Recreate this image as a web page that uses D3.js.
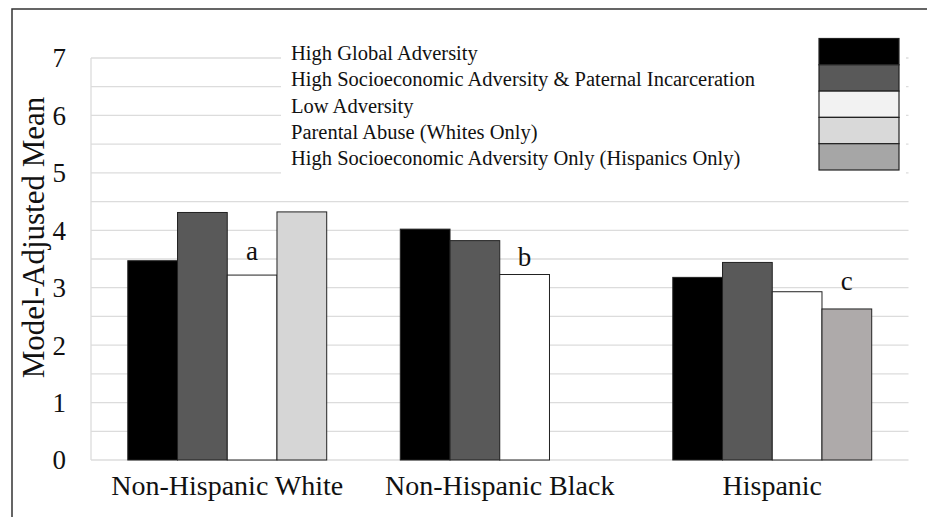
<!DOCTYPE html>
<html lang="en">
<head>
    <meta charset="UTF-8">
    <script src="https://d3js.org/d3.v7.min.js"></script>
    <title>Model-Adjusted Mean</title>
</head>
<body style="margin: 0; background: #fff;">
<div id="chart"></div>
<script>
    // categories and series
    const groups = ["Non-Hispanic White", "Non-Hispanic Black", "Hispanic"]
    const seriesNames = [
        "High Global Adversity",
        "High Socioeconomic Adversity & Paternal Incarceration",
        "Low Adversity",
        "Parental Abuse (Whites Only)",
        "High Socioeconomic Adversity Only (Hispanics Only)"
    ]
    // slot each series takes inside a group (the last two share slot 3)
    const seriesSlot = [0, 1, 2, 3, 3]
    const barColors = ["#000000", "#595959", "#ffffff", "#d6d6d6", "#aeaaaa"]
    const legendColors = ["#000000", "#595959", "#f2f2f2", "#d9d9d9", "#a6a6a6"]

    // values per group, null = not estimated
    const highGlobal = [3.47, 4.02, 3.18]
    const highSesPaternal = [4.31, 3.82, 3.44]
    const lowAdversity = [3.22, 3.23, 2.93]
    const parentalAbuse = [4.32, null, null]
    const highSesOnly = [null, null, 2.63]
    const seriesValues = [highGlobal, highSesPaternal, lowAdversity, parentalAbuse, highSesOnly]

    // significance letters: group, series, height in data units
    const letters = [
        {group: 0, series: 2, text: "a", at: 3.48},
        {group: 1, series: 2, text: "b", at: 3.37},
        {group: 2, series: 4, text: "c", at: 2.96}
    ]

    const yTicks = [0, 1, 2, 3, 4, 5, 6, 7]
    const gridSteps = d3.range(0, 7.01, 0.5)

    let width = 927
    let height = 517
    let plotLeft = 91
    let plotRight = 908.5
    let plotTop = 58
    let plotBottom = 460

    let svg = d3.select("#chart").append("svg")
        .attr("width", width)
        .attr("height", height)
        .style("font-family", "Liberation Serif, Times New Roman, serif")

    // outer frame (runs off the right and bottom edge)
    svg.append("rect")
        .attr("x", 12).attr("y", 9)
        .attr("width", 940).attr("height", 540)
        .attr("fill", "none")
        .attr("stroke", "#333")
        .attr("stroke-width", 1.5)

    let y = d3.scaleLinear().domain([0, 7]).range([plotBottom, plotTop])
    let x0 = d3.scaleBand().domain(groups).range([plotLeft, plotRight]).paddingInner(0.27).paddingOuter(0.135)
    let x1 = d3.scaleBand().domain([0, 1, 2, 3]).range([0, x0.bandwidth()])

    // grid
    svg.append("g")
        .selectAll("line")
        .data(gridSteps)
        .join("line")
        .attr("x1", plotLeft).attr("x2", plotRight)
        .attr("y1", d => y(d)).attr("y2", d => y(d))
        .attr("stroke", "#dcdcdc")
        .attr("stroke-width", 1.3)
    svg.append("line")
        .attr("x1", plotLeft).attr("x2", plotLeft)
        .attr("y1", y(7)).attr("y2", y(0))
        .attr("stroke", "#dcdcdc")
        .attr("stroke-width", 1.3)

    // y tick labels
    svg.append("g")
        .selectAll("text")
        .data(yTicks)
        .join("text")
        .attr("x", 66)
        .attr("y", d => y(d))
        .attr("dy", "0.35em")
        .attr("text-anchor", "end")
        .attr("font-size", 27)
        .attr("fill", "#111")
        .text(d => d)

    svg.append("text")
        .attr("transform", "translate(44," + 237.5 + ") rotate(-90)")
        .attr("text-anchor", "middle")
        .attr("font-size", 31)
        .attr("fill", "#111")
        .text("Model-Adjusted Mean")

    // bars
    let bars = []
    seriesValues.forEach((vals, s) => {
        vals.forEach((v, g) => {
            if (v !== null) bars.push({group: g, series: s, value: v})
        })
    })

    svg.append("g")
        .selectAll("rect")
        .data(bars)
        .join("rect")
        .attr("x", d => x0(groups[d.group]) + x1(seriesSlot[d.series]))
        .attr("width", x1.bandwidth())
        .attr("y", d => y(d.value))
        .attr("height", d => y(0) - y(d.value))
        .attr("fill", d => barColors[d.series])
        .attr("stroke", "#222")
        .attr("stroke-width", 1)

    svg.append("g")
        .selectAll("text")
        .data(letters)
        .join("text")
        .attr("x", d => x0(groups[d.group]) + x1(seriesSlot[d.series]) + x1.bandwidth() / 2)
        .attr("y", d => y(d.at))
        .attr("text-anchor", "middle")
        .attr("font-size", 27)
        .attr("fill", "#111")
        .text(d => d.text)

    // category labels
    svg.append("g")
        .selectAll("text")
        .data(groups)
        .join("text")
        .attr("x", d => x0(d) + x0.bandwidth() / 2)
        .attr("y", 495)
        .attr("text-anchor", "middle")
        .attr("font-size", 28)
        .attr("fill", "#111")
        .text(d => d)

    // legend
    let legend = svg.append("g")
    legend.append("rect")
        .attr("x", 281).attr("y", 36)
        .attr("width", 625).attr("height", 140)
        .attr("fill", "#fff")
    let rowH = 26.3
    legend.selectAll("text")
        .data(seriesNames)
        .join("text")
        .attr("x", 291)
        .attr("y", (d, i) => 53 + i * rowH)
        .attr("dy", "0.35em")
        .attr("font-size", 20.5)
        .attr("fill", "#111")
        .text(d => d)
    legend.selectAll("rect.key")
        .data(legendColors)
        .join("rect")
        .attr("class", "key")
        .attr("x", 819)
        .attr("y", (d, i) => 38.5 + i * rowH)
        .attr("width", 80)
        .attr("height", rowH)
        .attr("fill", d => d)
        .attr("stroke", "#222")
        .attr("stroke-width", 1.2)
</script>
</body>
</html>
